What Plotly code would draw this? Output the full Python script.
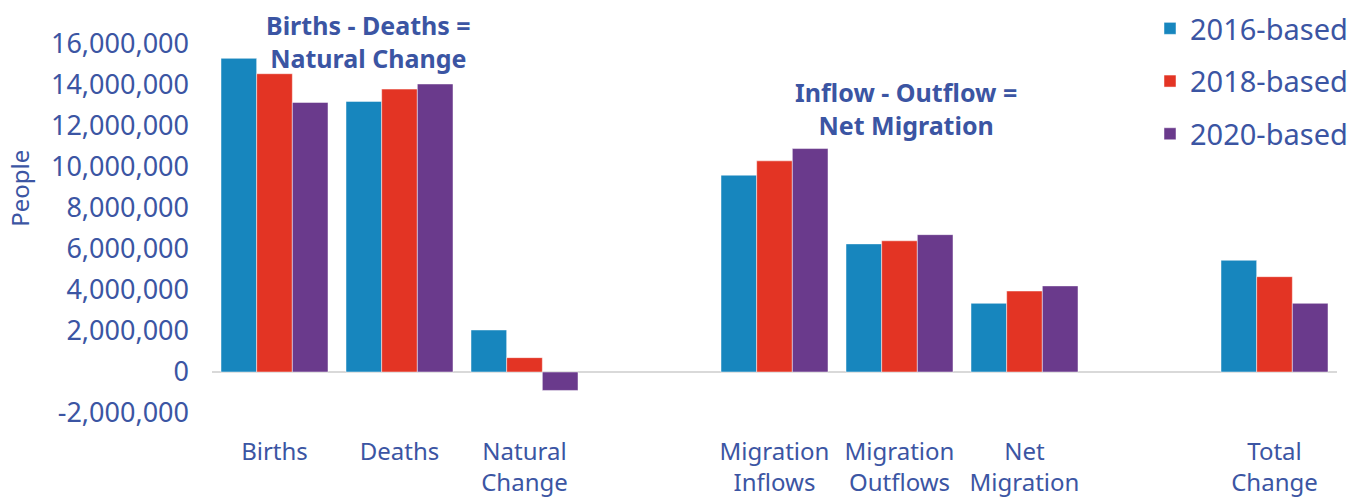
import plotly.graph_objects as go

categories = ["Births", "Deaths", "Natural<br>Change", " ", "Migration<br>Inflows",
              "Migration<br>Outflows", "Net<br>Migration", "  ", "Total<br>Change"]
series_names = ["2016-based", "2018-based", "2020-based"]
v2016 = [15300000, 13200000, 2050000, None, 9600000, 6250000, 3350000, None, 5450000]
v2018 = [14550000, 13800000, 700000, None, 10300000, 6400000, 3950000, None, 4650000]
v2020 = [13150000, 14050000, -900000, None, 10900000, 6700000, 4200000, None, 3350000]
y_ticks = [-2000000, 0, 2000000, 4000000, 6000000, 8000000, 10000000, 12000000, 14000000, 16000000]
y_ticktext = [f"{v:,}" for v in y_ticks]
colors = ["#1786BE", "#E33424", "#6A3A8C"]
text_color = "#3B55A3"
font_family = "Noto Sans, Open Sans, sans-serif"

fig = go.Figure()
for i, (name, vals) in enumerate(zip(series_names, [v2016, v2018, v2020])):
    fig.add_trace(go.Bar(
        x=categories, y=vals, name=name, legendgroup=name,
        marker=dict(color=colors[i], line=dict(color="rgba(255,255,255,0.6)", width=0.8)),
    ))

fig.add_annotation(x=0.75, y=16100000, xref="x", yref="y",
                   text="<b>Births - Deaths =<br>Natural Change</b>", showarrow=False,
                   font=dict(size=25, color=text_color, family=font_family))
fig.add_annotation(x=5.05, y=12830000, xref="x", yref="y",
                   text="<b>Inflow - Outflow =<br>Net Migration</b>", showarrow=False,
                   font=dict(size=25, color=text_color, family=font_family))
fig.add_annotation(x=-0.1707, y=0.549, xref="paper", yref="paper",
                   xanchor="center", yanchor="middle",
                   text="People", textangle=-90, showarrow=False,
                   font=dict(size=24, color=text_color, family=font_family))

fig.update_layout(
    width=1353, height=499,
    margin=dict(l=212, r=16, t=3, b=86, autoexpand=False),
    paper_bgcolor="white", plot_bgcolor="white",
    barmode="group", bargap=0.144, bargroupgap=0,
    font=dict(family=font_family, color=text_color, size=22),
    legend=dict(xref="container", x=1.0, xanchor="right", y=1.0, yanchor="top",
                font=dict(size=29, color=text_color), tracegroupgap=12,
                bgcolor="rgba(0,0,0,0)"),
    xaxis=dict(showgrid=False, showline=False, ticks="", tickfont=dict(size=24),
               tickangle=0, automargin=False,
               ticklabelstandoff=22, categoryorder="array", categoryarray=categories),
    yaxis=dict(range=[-2000000, 18000000], tickvals=y_ticks, ticktext=y_ticktext,
               showgrid=False, zeroline=True, zerolinecolor="#D9D9D9",
               zerolinewidth=2, showline=False, tickfont=dict(size=27),
               ticklabelstandoff=22, automargin=False),
)

fig.write_html("out.html")
